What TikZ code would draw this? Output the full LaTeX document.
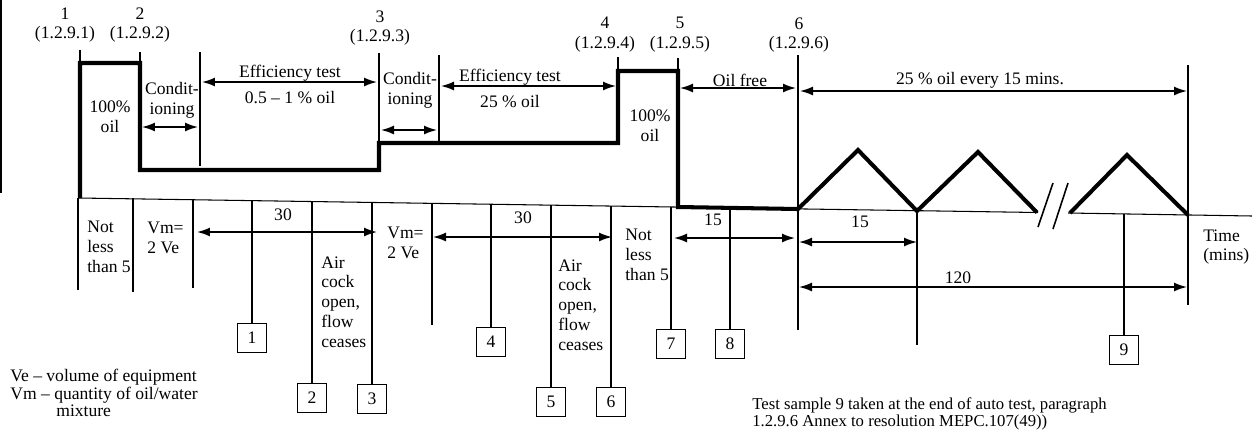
\documentclass[tikz,border=0pt]{standalone}
\usepackage{fontspec}
\setmainfont{Liberation Serif}
\usetikzlibrary{arrows.meta}

\begin{document}
\begin{tikzpicture}[x=0.02cm,y=-0.02cm,
        every node/.style={font=\fontsize{10}{11.3}\selectfont},
        oilline/.style={line width=2.3pt,line join=miter},
        guide/.style={line width=0.6pt},
        dimarrow/.style={line width=0.9pt,{Latex[length=2.6mm,width=1.8mm]}-{Latex[length=2.6mm,width=1.8mm]}},
        samplebox/.style={draw,line width=1pt,minimum size=0.58cm,inner sep=0pt},
        txt/.style={align=center,inner sep=0pt},
        ltxt/.style={align=left,inner sep=0pt,anchor=west}]
                \useasboundingbox (0,0) rectangle (1252,434);
                \draw[guide] (1,0) -- (1,193);
                \draw[guide] (78,198) -- (1038,212.5);
                \draw[guide] (1068,213) -- (1252,216);
                \draw[line width=0.9pt] (1038,227) -- (1053,183);
                \draw[line width=0.9pt] (1053,229) -- (1068,183);
                \draw[oilline] (80,198) -- (80,63) -- (140,63) -- (140,170) -- (379,170) -- (379,143) -- (618,143) -- (618,71) -- (678,71) -- (678,207) -- (798,209) -- (858,150) -- (917,211) -- (978,152) -- (1037,212.5);
                \draw[oilline] (1070,213) -- (1127,155) -- (1188,215);
                \foreach \x/\ya/\yb in {80/50/63, 140/52/63, 200/52/166, 379/53/143, 439/55/143, 618/57/71, 678/58/71, 798/55/330, 1188/65/305, 78/198/290, 133/198/292, 193/199/288, 432/203/325, 917/211/345} {
                    \draw[guide] (\x,\ya) -- (\x,\yb);
                }
                \foreach \n/\x/\y in {1/65/25, 2/140/25, 3/380/28, 4/605/35, 5/680/35, 6/799/35} {
                    \node[txt] (pt\n) at (\x,\y) {\n\\(1.2.9.\n)};
                }
                \node[txt] (full1) at (110,117) {100\%\\oil};
                \node[txt] (cond1) at (172,100) {Condit-\\ioning};
                \node[txt] (eff1) at (290,73) {Efficiency test};
                \node[txt] (mix1) at (290,98) {0.5 -- 1 \% oil};
                \node[txt] (cond2) at (410,90) {Condit-\\ioning};
                \node[txt] (eff2) at (510,77) {Efficiency test};
                \node[txt] (mix2) at (510,102) {25 \% oil};
                \node[txt] (full2) at (650,126) {100\%\\oil};
                \node[txt] (free) at (740,80) {Oil free};
                \node[txt] (auto) at (980,80) {25 \% oil every 15 mins.};
                \draw[dimarrow] (142,127) -- (198,127);
                \draw[dimarrow] (202,82) -- (377,82);
                \draw[dimarrow] (381,130) -- (437,130);
                \draw[dimarrow] (441,86) -- (616,86);
                \draw[dimarrow] (680,88) -- (796,88);
                \draw[dimarrow] (800,91) -- (1187,91);
                \draw[dimarrow] (197,232) -- (377,232);
                \draw[dimarrow] (433,237) -- (612,237);
                \draw[dimarrow] (674,238) -- (795,238);
                \draw[dimarrow] (799,242) -- (917,242);
                \draw[dimarrow] (799,287) -- (1187,287);
                \node[ltxt] (wait1) at (87,247) {Not\\less\\than 5};
                \node[ltxt] (vol1) at (147,238) {Vm=\\2 Ve};
                \node[txt] (dur1) at (283,215) {30};
                \node[ltxt] (cock1) at (321,302) {Air\\cock\\open,\\flow\\ceases};
                \node[ltxt] (vol2) at (387,243) {Vm=\\2 Ve};
                \node[txt] (dur2) at (523,218) {30};
                \node[ltxt] (cock2) at (558,305) {Air\\cock\\open,\\flow\\ceases};
                \node[ltxt] (wait2) at (625,255) {Not\\less\\than 5};
                \node[txt] (dur3) at (713,220) {15};
                \node[txt] (dur4) at (860,222) {15};
                \node[txt] (dur5) at (958,278) {120};
                \node[ltxt] (time) at (1203,247) {Time\\(mins)};
                \foreach \n/\x/\y/\ya in {1/252/338/200, 2/312/398/201, 3/372/399/202, 4/491/342/204, 5/551/402/205, 6/611/402/206, 7/671/344/207, 8/730/344/208, 9/1124/350/214} {
                    \node[samplebox] (s\n) at (\x,\y) {\n};
                    \coordinate (a\n) at (\x,\ya);
                    \draw[guide] (a\n) -- (s\n);
                }
                \node[ltxt,font=\fontsize{10}{10}\selectfont] (legend) at (10,393) {Ve -- volume of equipment\\Vm -- quantity of oil/water\\\hspace*{0.92cm}mixture};
                \node[ltxt,font=\fontsize{9.5}{10}\selectfont] (note) at (752,414) {Test sample 9 taken at the end of auto test, paragraph\\1.2.9.6 Annex to resolution MEPC.107(49))};
            \end{tikzpicture}
\end{document}
